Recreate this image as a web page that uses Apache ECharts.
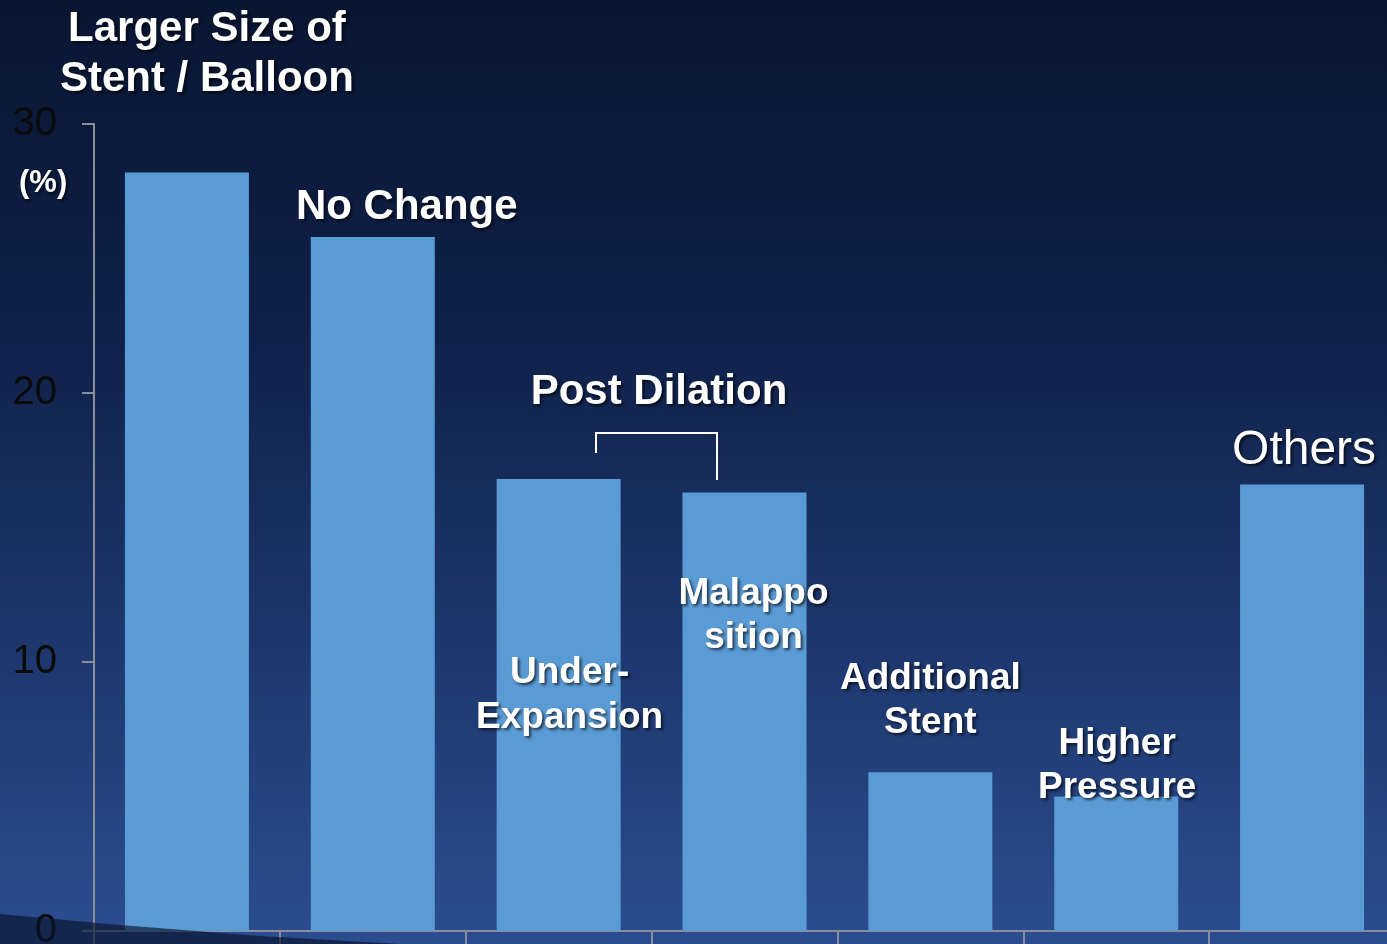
<!DOCTYPE html>
<html>
<head>
<meta charset="utf-8">
<script src="https://cdn.jsdelivr.net/npm/echarts@6/dist/echarts.min.js"></script>
<style>
  html, body { margin: 0; padding: 0; }
  #chart { width: 1387px; height: 944px; }
</style>
</head>
<body>
<div id="chart"></div>
<script>
// data (%)
const categories = ['Larger Size of\nStent / Balloon', 'No Change', 'Under-\nExpansion', 'Malappo\nsition', 'Additional\nStent', 'Higher\nPressure', 'Others']
const values = [28.2, 25.8, 16.8, 16.3, 5.9, 5.0, 16.6]
const yTicks = [0, 10, 20, 30]

// label placement relative to the bar top [dx, dy], kept apart from the data
const labelOffsets = [[20, -63], [34, 0], [11, 266], [9, 172], [0, -22], [1, 18], [2, -4]]
const labelLineHeights = [50, 50, 45, 44, 44, 44, 50]
const labelFontSizes = [42, 42, 37, 37, 37, 37, 48]

let chart = echarts.init(document.getElementById('chart'))

const shadow = {
    textShadowColor: 'rgba(0,0,0,0.65)',
    textShadowBlur: 3,
    textShadowOffsetX: 2,
    textShadowOffsetY: 2
}

let barData = values.map(function (v, i) {
    let others = i === categories.length - 1
    return {
        value: v,
        label: Object.assign({
            show: true,
            position: 'top',
            distance: 5,
            offset: labelOffsets[i],
            formatter: categories[i],
            color: '#ffffff',
            fontFamily: 'Liberation Sans, Arial, sans-serif',
            fontWeight: others ? 'normal' : 'bold',
            fontSize: labelFontSizes[i],
            lineHeight: labelLineHeights[i],
            align: 'center'
        }, shadow)
    }
})

chart.setOption({
    animation: false,
    backgroundColor: new echarts.graphic.LinearGradient(0, 0, 0, 1, [
        { offset: 0, color: '#091632' },
        { offset: 0.35, color: '#0f2149' },
        { offset: 1, color: '#2b4d90' }
    ]),
    grid: { left: 94, right: -8, top: 124, bottom: 13, outerBoundsMode: 'none', containLabel: false },
    xAxis: {
        type: 'category',
        data: categories,
        axisLine: { lineStyle: { color: '#8a8f99', width: 2 } },
        axisTick: { show: true, inside: false, length: 14, lineStyle: { color: '#8a8f99', width: 2 } },
        axisLabel: { show: false }
    },
    yAxis: {
        type: 'value',
        min: yTicks[0],
        max: yTicks[yTicks.length - 1],
        interval: 10,
        splitLine: { show: false },
        axisLine: { show: true, lineStyle: { color: '#8a8f99', width: 2 } },
        axisTick: { show: true, length: 12, lineStyle: { color: '#8a8f99', width: 2 } },
        axisLabel: {
            color: '#0a0a0a',
            fontSize: 40,
            fontFamily: 'Liberation Sans, Arial, sans-serif',
            margin: 37
        }
    },
    series: [
        {
            type: 'bar',
            data: barData,
            barWidth: 124,
            itemStyle: { color: '#5b9bd5' }
        }
    ],
    graphic: [
        {
            type: 'text',
            left: 19,
            top: 168,
            style: Object.assign({
                text: '(%)',
                fill: '#ffffff',
                font: 'bold 31px "Liberation Sans", Arial, sans-serif'
            }, shadow)
        },
        {
            type: 'text',
            x: 659,
            y: 392,
            style: Object.assign({
                text: 'Post Dilation',
                fill: '#ffffff',
                align: 'center',
                verticalAlign: 'middle',
                font: 'bold 42px "Liberation Sans", Arial, sans-serif'
            }, shadow)
        },
        {
            type: 'polyline',
            shape: { points: [[596, 453], [596, 433], [717, 433], [717, 480]] },
            style: { stroke: '#ffffff', lineWidth: 2, fill: null }
        },
        {
            // dark swoosh at the bottom left
            type: 'polygon',
            z: 10,
            shape: { points: [[0, 914], [120, 925], [260, 936], [400, 944], [0, 944]] },
            style: { fill: 'rgba(8,18,45,0.65)' }
        }
    ]
})
</script>
</body>
</html>
